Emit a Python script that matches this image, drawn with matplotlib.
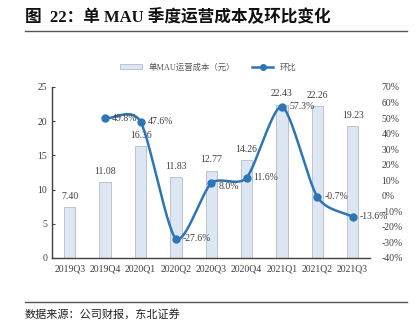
import numpy as np
import matplotlib.pyplot as plt
from matplotlib.lines import Line2D
from matplotlib.patches import Patch

plt.rcParams['font.family'] = ['Liberation Serif', 'Noto Sans CJK SC']

quarters = ['2019Q3', '2019Q4', '2020Q1', '2020Q2', '2020Q3',
            '2020Q4', '2021Q1', '2021Q2', '2021Q3']
cost = [7.40, 11.08, 16.36, 11.83, 12.77, 14.26, 22.43, 22.26, 19.23]
qoq = [None, 49.8, 47.6, -27.6, 8.0, 11.6, 57.3, -0.7, -13.6]

BAR_FC = '#dce7f3'
BAR_EC = '#b4bcc6'
LINE_C = '#2e75b6'
TXT_C = '#404040'


def smooth(xs, ys, tension=0.38, n=30):
    # cardinal spline through the points ("smoothed line")
    px = np.concatenate([[2 * xs[0] - xs[1]], xs, [2 * xs[-1] - xs[-2]]])
    py = np.concatenate([[2 * ys[0] - ys[1]], ys, [2 * ys[-1] - ys[-2]]])
    outx, outy = [], []
    t = np.linspace(0, 1, n)
    h00 = 2 * t ** 3 - 3 * t ** 2 + 1
    h10 = t ** 3 - 2 * t ** 2 + t
    h01 = -2 * t ** 3 + 3 * t ** 2
    h11 = t ** 3 - t ** 2
    for i in range(1, len(px) - 2):
        for p, out in ((px, outx), (py, outy)):
            m1 = tension * (p[i + 1] - p[i - 1])
            m2 = tension * (p[i + 2] - p[i])
            out.extend(h00 * p[i] + h10 * m1 + h01 * p[i + 1] + h11 * m2)
    return np.array(outx), np.array(outy)


fig = plt.figure(figsize=(4.17, 3.22), dpi=100)
ax = fig.add_axes([0.125, 0.199, 0.763, 0.531])
x = np.arange(len(quarters))

ax.bar(x, cost, width=0.32, color=BAR_FC, edgecolor=BAR_EC, linewidth=0.6, zorder=2)
for xi, v in zip(x, cost):
    ax.text(xi, v + 0.9, f'{v:.2f}', ha='center', va='bottom', fontsize=7, color=TXT_C)

ax.set_ylim(0, 25)
ax.set_xlim(-0.5, len(quarters) - 0.5)
ax.set_yticks(range(0, 26, 5))
ax.set_xticks(x)
ax.set_xticklabels(quarters)
ax.tick_params(axis='both', labelsize=7, colors=TXT_C, length=2)
ax.tick_params(axis='y', direction='in')
ax.tick_params(axis='x', length=0, pad=5)
for s in ('top', 'right'):
    ax.spines[s].set_visible(False)
for s in ('left', 'bottom'):
    ax.spines[s].set_color('#404040')
    ax.spines[s].set_linewidth(1.0)

ax2 = ax.twinx()
lx = np.array([i for i, v in enumerate(qoq) if v is not None], dtype=float)
ly = np.array([v for v in qoq if v is not None])
sx, sy = smooth(lx, ly)
ax2.plot(sx, sy, color=LINE_C, linewidth=1.8, zorder=3)
ax2.plot(lx, ly, 'o', color=LINE_C, markersize=5, zorder=4)
for xi, v in zip(lx, ly):
    dy = -2 if v == 8.0 else 0
    ax2.text(xi + 0.2, v + dy, f'{v:.1f}%', ha='left', va='center', fontsize=7, color=TXT_C)
ax2.set_ylim(-40, 70)
ax2.set_yticks(range(-40, 71, 10))
ax2.set_yticklabels([f'{t}%' for t in range(-40, 71, 10)])
ax2.tick_params(axis='y', labelsize=7, colors=TXT_C, length=0, pad=8)
for s in ax2.spines.values():
    s.set_visible(False)

handles = [Patch(facecolor=BAR_FC, edgecolor=BAR_EC, linewidth=0.6),
           Line2D([], [], color=LINE_C, linewidth=1.8, marker='o', markersize=4)]
fig.legend(handles, ['单MAU运营成本（元）', '环比'], loc='center', bbox_to_anchor=(0.5, 0.79),
           ncol=2, frameon=False, fontsize=6, handlelength=2.6, handleheight=0.6,
           columnspacing=2.0, labelcolor='#555555')

fig.text(0.06, 0.945, '图  22：单 MAU 季度运营成本及环比变化', fontsize=12, fontweight='bold',
         va='center', color='#111111')
fig.add_artist(Line2D([0.06, 0.977], [0.905, 0.905], color='#555555', linewidth=1.0))
fig.add_artist(Line2D([0.06, 0.977], [0.063, 0.063], color='#555555', linewidth=1.0))
fig.text(0.06, 0.025, '数据来源：公司财报，东北证券', fontsize=8, va='center', color='#222222')

fig.savefig('out.png', dpi=100)
